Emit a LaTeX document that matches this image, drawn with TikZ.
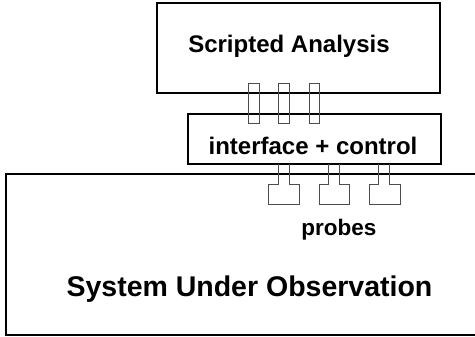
\documentclass[tikz,border=0pt]{standalone}
\usepackage{fontspec}
\setmainfont{Liberation Sans}
\begin{document}
\begin{tikzpicture}[x=1pt,y=-1pt,
  box/.style={draw=black,line width=1.6pt,inner sep=0pt,outer sep=0pt},
  link/.style={draw=black!70,line width=0.9pt},
  lbl/.style={inner sep=0pt,anchor=base,font=\bfseries\fontsize{24}{28}\selectfont},
  biglbl/.style={inner sep=0pt,anchor=base,font=\bfseries\fontsize{28.5}{32}\selectfont}]
\useasboundingbox (0,0) rectangle (475,337);
% main boxes
\node[box,minimum width=283pt,minimum height=90pt] (sa) at (298.5,48) {};
\node[box,minimum width=253pt,minimum height=50pt] (ic) at (314.5,139) {};
\node[box,minimum width=490pt,minimum height=161pt] (sys) at (251,254.5) {};
% labels
\node[lbl] (salbl) at (289,53) {Scripted Analysis};
\node[lbl] (iclbl) at (313,155) {interface + control};
\node[font=\bfseries\fontsize{22.5}{26}\selectfont,inner sep=0pt,anchor=base] (prlbl) at (339,236) {probes};
\node[biglbl] (syslbl) at (249.5,297) {System Under Observation};
% connectors between analysis and interface
\foreach \x in {248.5,278.5,309}{
  \draw[link] (\x,83.5) rectangle ++(10.5,40);
}
% probes
\foreach \s/\b in {278/268.5,328.5/319,378.5/369.5}{
  \draw[link] (\s,164) -- (\s,184) -- (\b,184) -- (\b,204) -- (\b+30.5,204) -- (\b+30.5,184) -- (\s+11,184) -- (\s+11,164);
}
\end{tikzpicture}
\end{document}
